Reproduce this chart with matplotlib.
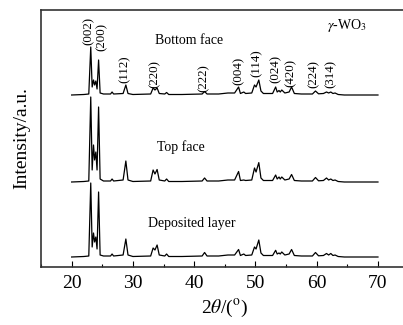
import matplotlib
matplotlib.use("Agg")
import matplotlib.pyplot as plt
from matplotlib.ticker import MultipleLocator

plt.rcParams['font.family'] = ['Liberation Serif', 'DejaVu Serif']
plt.rcParams['mathtext.fontset'] = 'stix'

# 2theta vertices (degrees)
two_theta = [20.0, 22.0, 22.8, 23.12, 23.35, 23.57, 23.75, 23.95, 24.15, 24.40, 24.65,
             25.2, 26.35, 26.6, 26.85, 28.4, 28.85, 29.2, 30.0, 32.9, 33.3, 33.6,
             33.95, 34.3, 35.2, 35.5, 35.85, 38.0, 41.3, 41.7, 42.1, 44.0, 45.5,
             46.6, 47.25, 47.55, 48.1, 48.4, 49.4, 49.85, 50.1, 50.55, 50.9, 51.3,
             52.8, 53.3, 53.55, 53.85, 54.05, 54.3, 54.8, 55.5, 55.9, 56.35, 57.5,
             59.3, 59.8, 60.3, 61.1, 61.6, 61.95, 62.3, 62.65, 63.0, 63.5, 64.5, 70.0]

# intensities (a.u.) above each pattern's own baseline
bottom_face = [0, 0.5, 1, 48, 8, 15, 10, 14, 6, 35, 2,
               1, 1, 3, 1, 1.5, 10, 1.5, 0.5, 1, 7, 5,
               7, 1.5, 1, 2.5, 0.5, 0.5, 1, 3.5, 1, 1, 2,
               2, 8, 1.5, 3, 1.5, 2, 10, 8, 15, 4, 1.5,
               1.5, 8, 3, 4.5, 3, 5, 2, 3, 8, 1.5, 1,
               1, 4, 1.2, 1.5, 3, 2, 3, 1.5, 2, 0.5, 0, 0]
top_face = [0, 0.5, 1, 85, 12, 37, 22, 30, 12, 75, 3,
            1, 1, 3, 1, 2, 21, 2, 0.5, 1, 12, 8,
            12.5, 2, 1, 3, 0.5, 0.5, 1, 4, 1, 1, 2,
            2, 10.5, 1.5, 2, 1.5, 2, 14, 10, 19.4, 4, 1.5,
            1.5, 7, 3, 5, 3, 5, 2, 3, 7.5, 1.5, 1,
            1, 4.5, 1.2, 1.5, 4, 2, 3, 1.5, 2, 0.5, 0, 0]
deposited_layer = [0, 0.5, 1, 74, 10, 24, 15, 20, 8, 65, 2,
                   1, 1, 3, 1, 2, 18, 2, 0.5, 1, 9, 7,
                   12, 2, 1, 3, 0.5, 0.5, 1, 4.5, 1, 1, 2,
                   2, 7.5, 1.5, 3, 1.5, 2, 10, 8, 17, 4, 1.5,
                   1.5, 6.7, 3, 4, 3, 5, 2, 3, 7.5, 1.5, 1,
                   1, 4.5, 1.2, 1.5, 3.5, 2, 3.5, 1.5, 2, 0.5, 0, 0]

series_names = ["Bottom face", "Top face", "Deposited layer"]

# Miller index labels and their 2theta positions
hkl_labels = ["(002)", "(200)", "(112)", "(220)", "(222)", "(004)", "(114)",
              "(024)", "(420)", "(224)", "(314)"]
hkl_pos = [22.75, 24.85, 28.6, 33.6, 41.6, 47.2, 50.2, 53.3, 55.75, 59.45, 62.2]

# layout (stack offsets and label heights, axis units)
offsets = [172, 85, 10]
hkl_label_y = [222, 216, 184, 179, 175, 182, 190, 184, 180, 179, 179]

fig = plt.figure(figsize=(4.03, 3.25), dpi=100)
ax = fig.add_axes([41 / 403, 58 / 325, 367.6 / 403, 257 / 325])

for ys, off in zip([bottom_face, top_face, deposited_layer], offsets):
    ax.plot(two_theta, [v + off for v in ys], color='black', lw=0.9)

for lab, xp, yp in zip(hkl_labels, hkl_pos, hkl_label_y):
    ax.text(xp, yp, lab, rotation=90, ha='center', va='bottom', fontsize=9.3)

ax.text(33.56, 227, series_names[0], ha='left', va='center', fontsize=10)
ax.text(33.9, 120, series_names[1], ha='left', va='center', fontsize=10)
ax.text(32.4, 44, series_names[2], ha='left', va='center', fontsize=10)
ax.text(61.67, 242, r"$\gamma$-WO$_3$", ha='left', va='center', fontsize=10)

ax.set_xlim(15, 75)
ax.set_ylim(0, 257)
ax.xaxis.set_minor_locator(MultipleLocator(5))
ax.set_xticks([20, 30, 40, 50, 60, 70])
ax.tick_params(axis='x', which='major', direction='in', length=4, width=0.8,
               labelsize=14, pad=6, top=False)
ax.tick_params(axis='x', which='minor', direction='in', length=2.5, width=0.8, top=False)
ax.set_yticks([])

for s in ax.spines.values():
    s.set_linewidth(1.2)
    s.set_color('#333333')

ax.set_xlabel(r"2$\theta$/($^{\rm o}$)", fontsize=14, labelpad=4)
ax.set_ylabel("Intensity/a.u.", fontsize=14, labelpad=8)

fig.savefig("out.png", dpi=100)
